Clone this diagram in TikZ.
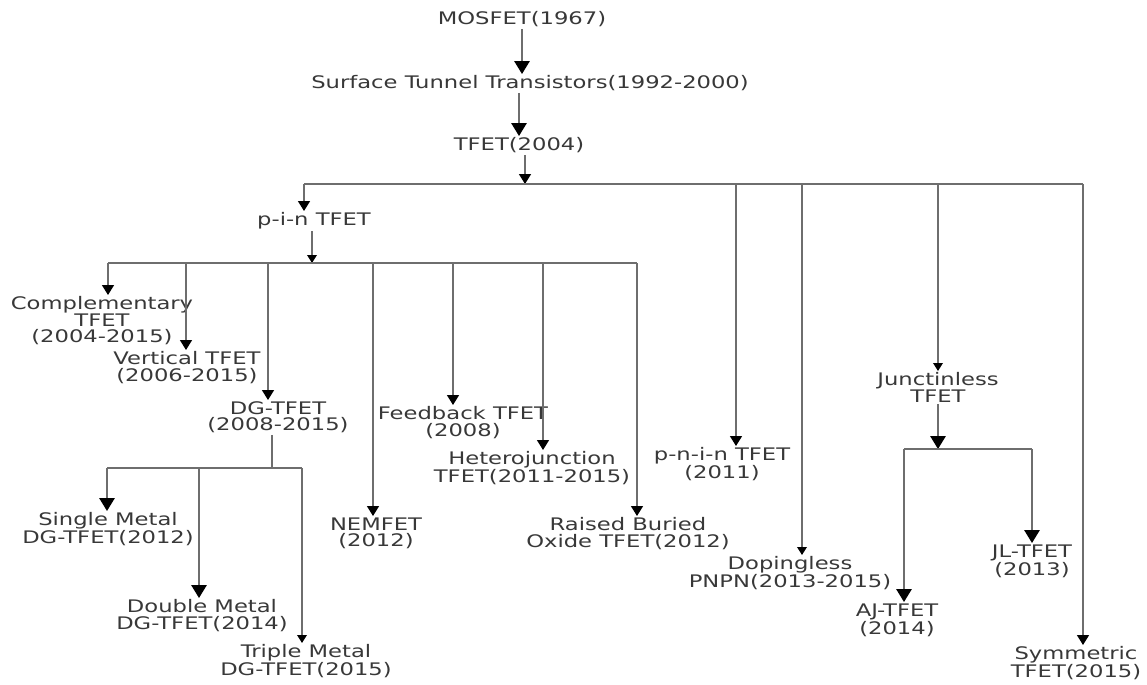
\documentclass[tikz,border=0pt]{standalone}
\usepackage{fontspec}
\setmainfont{DejaVu Sans}[FakeStretch=1.31]
\definecolor{txtgray}{HTML}{383838}
\definecolor{linegray}{HTML}{6E6E6E}
\usetikzlibrary{arrows.meta}

\begin{document}
\begin{tikzpicture}[
    x=0.025cm, y=-0.025cm,
    item/.style={
      align=center, inner sep=1pt, anchor=north,
      font=\fontsize{12.3}{11.6}\selectfont, text=txtgray,
    },
    link/.style={linegray, line width=1.1pt},
    arr/.style={link, -{Triangle[width=0.3cm, length=0.25cm, color=black]}},
    arrbig/.style={link, -{Triangle[width=0.38cm, length=0.32cm, color=black]}},
    arrsmall/.style={link, -{Triangle[width=0.24cm, length=0.2cm, color=black]}},
  ]
  \useasboundingbox (0,0) rectangle (1147,685);

  % main line
  \node[item] (mosfet) at (522,10) {MOSFET(1967)};
  \node[item] (stt) at (530,74) {Surface Tunnel Transistors(1992-2000)};
  \node[item] (tfet) at (519,136) {TFET(2004)};
  \draw[arrbig] (mosfet.south) -- (mosfet.south |- stt.north);
  \draw[arrbig] (stt.south -| tfet.north) -- (tfet.north);

  \coordinate (bus) at (525,184);
  \coordinate (b-pin) at (304,184);
  \coordinate (b-pnin) at (736,184);
  \coordinate (b-dop) at (802,184);
  \coordinate (b-jun) at (938,184);
  \coordinate (b-sym) at (1083,184);
  \draw[arr] (tfet.south -| bus) -- (bus);
  \draw[link] (b-pin) -- (b-sym);

  \node[item] (pin) at (314,211) {p-i-n TFET};
  \node[item] (pnin) at (722,446) {p-n-i-n TFET\\(2011)};
  \node[item] (dop) at (790,555) {Dopingless\\PNPN(2013-2015)};
  \node[item] (jun) at (938,371) {Junctinless\\TFET};
  \node[item] (sym) at (1076,645) {Symmetric\\TFET(2015)};

  \draw[arr] (b-pin) -- (b-pin |- pin.north);
  \draw[arr] (b-pnin) -- (b-pnin |- pnin.north);
  \draw[arrsmall] (b-dop) -- (b-dop |- dop.north);
  \draw[arrsmall] (b-jun) -- (b-jun |- jun.north);
  \draw[arr] (b-sym) -- (b-sym |- sym.north);

  % p-i-n branch
  \coordinate (sbus) at (312,263);
  \coordinate (s-comp) at (108,263);
  \coordinate (s-vert) at (186,263);
  \coordinate (s-dg) at (268,263);
  \coordinate (s-nem) at (373,263);
  \coordinate (s-feed) at (453,263);
  \coordinate (s-het) at (543,263);
  \coordinate (s-rai) at (637,263);
  \draw[arrsmall] (pin.south -| sbus) -- (sbus);
  \draw[link] (s-comp) -- (s-rai);

  \node[item] (comp) at (102,295) {Complementary\\TFET\\(2004-2015)};
  \node[item] (vert) at (187,350) {Vertical TFET\\(2006-2015)};
  \node[item] (dg) at (278,400) {DG-TFET\\(2008-2015)};
  \node[item] (nem) at (376,516) {NEMFET\\(2012)};
  \node[item] (feed) at (463,405) {Feedback TFET\\(2008)};
  \node[item] (het) at (532,450) {Heterojunction\\TFET(2011-2015)};
  \node[item] (rai) at (628,516) {Raised Buried\\Oxide TFET(2012)};

  \draw[arr] (s-comp) -- (s-comp |- comp.north);
  \draw[arr] (s-vert) -- (s-vert |- vert.north);
  \draw[arr] (s-dg) -- (s-dg |- dg.north);
  \draw[arr] (s-nem) -- (s-nem |- nem.north);
  \draw[arr] (s-feed) -- (s-feed |- feed.north);
  \draw[arr] (s-het) -- (s-het |- het.north);
  \draw[arr] (s-rai) -- (s-rai |- rai.north);

  % DG-TFET branch
  \coordinate (dbus) at (272,468);
  \coordinate (d-single) at (107,468);
  \coordinate (d-double) at (199,468);
  \coordinate (d-triple) at (302,468);
  \draw[link] (dg.south -| dbus) -- (dbus);
  \draw[link] (d-single) -- (d-triple);

  \node[item] (single) at (108,511) {Single Metal\\DG-TFET(2012)};
  \node[item] (double) at (202,598) {Double Metal\\DG-TFET(2014)};
  \node[item] (triple) at (306,643) {Triple Metal\\DG-TFET(2015)};

  \draw[arrbig] (d-single) -- (d-single |- single.north);
  \draw[arrbig] (d-double) -- (d-double |- double.north);
  \draw[arrsmall] (d-triple) -- (d-triple |- triple.north);

  % junctionless branch
  \coordinate (jbus) at (938,449);
  \coordinate (j-aj) at (904,449);
  \coordinate (j-jl) at (1032,449);
  \draw[arrbig] (jun.south -| jbus) -- (jbus);
  \draw[link] (j-aj) -- (j-jl);

  \node[item] (aj) at (897,602) {AJ-TFET\\(2014)};
  \node[item] (jl) at (1032,543) {JL-TFET\\(2013)};

  \draw[arrbig] (j-aj) -- (j-aj |- aj.north);
  \draw[arrbig] (j-jl) -- (j-jl |- jl.north);
\end{tikzpicture}
\end{document}
